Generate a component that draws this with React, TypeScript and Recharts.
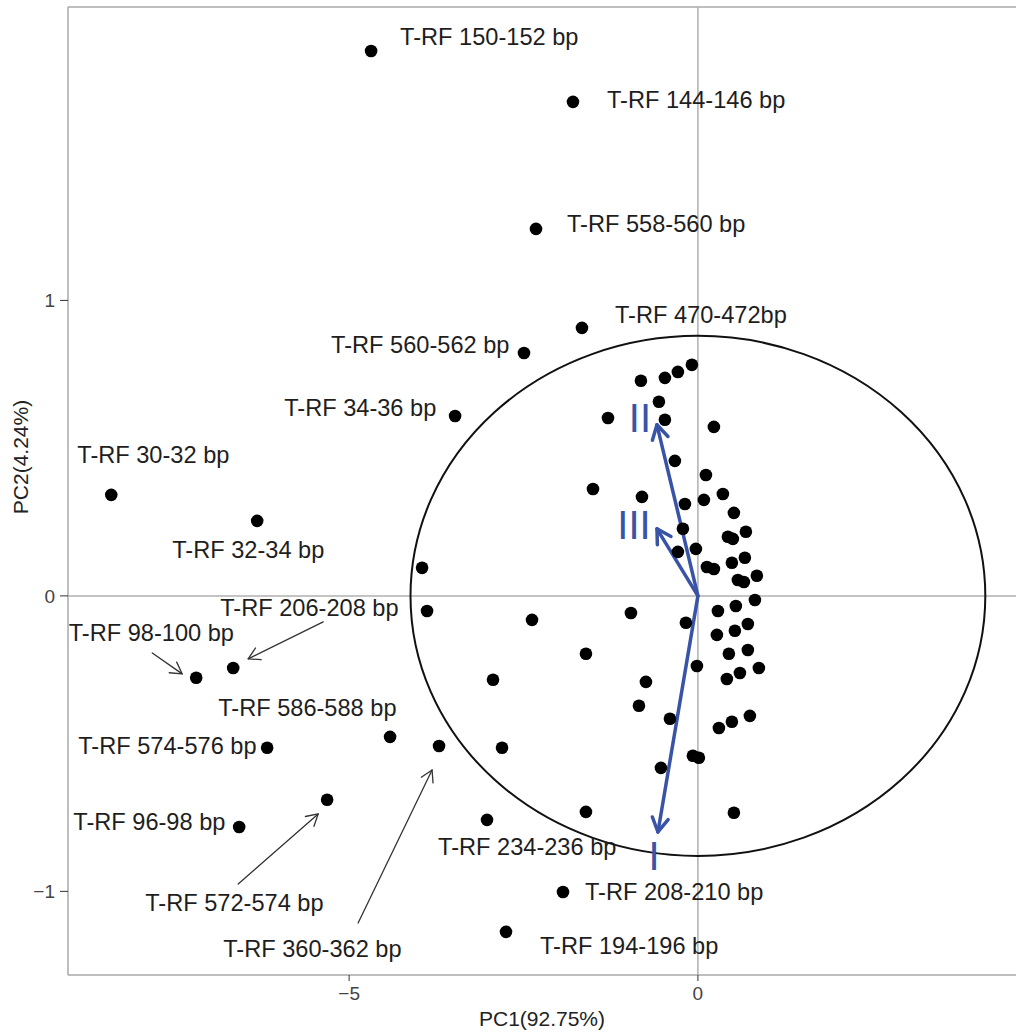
import React from 'react';
import { ComposedChart, Scatter, XAxis, YAxis, ReferenceLine } from 'recharts';

const FONT = '"Liberation Sans", Arial, Helvetica, sans-serif';

// named T-RF points (PC1, PC2)
const labelNames = [
  'T-RF 150-152 bp', 'T-RF 144-146 bp', 'T-RF 558-560 bp', 'T-RF 470-472bp',
  'T-RF 560-562 bp', 'T-RF 34-36 bp', 'T-RF 30-32 bp', 'T-RF 32-34 bp',
  'T-RF 206-208 bp', 'T-RF 98-100 bp', 'T-RF 586-588 bp', 'T-RF 574-576 bp',
  'T-RF 572-574 bp', 'T-RF 96-98 bp', 'T-RF 360-362 bp', 'T-RF 234-236 bp',
  'T-RF 208-210 bp', 'T-RF 194-196 bp',
];
const labelledPC1 = [
  -4.685, -1.791, -2.321, -1.662, -2.493, -3.481, -8.41, -6.318, -6.662,
  -7.192, -4.413, -6.175, -5.315, -6.576, -3.711, -3.023, -1.934, -2.751,
];
const labelledPC2 = [
  1.844, 1.672, 1.242, 0.907, 0.822, 0.609, 0.342, 0.254, -0.244,
  -0.277, -0.477, -0.514, -0.69, -0.782, -0.508, -0.758, -1.002, -1.137,
];
// where each name starts (left edge, middle of the text)
const labelTextPC1 = [
  -4.269, -1.304, -1.877, -1.189, -5.258, -5.931, -8.897, -7.536, -6.848,
  -9.02, -6.877, -8.883, -7.923, -8.954, -6.805, -3.725, -1.619, -2.264,
];
const labelTextPC2 = [
  1.892, 1.678, 1.259, 0.951, 0.849, 0.636, 0.477, 0.156, -0.041,
  -0.125, -0.379, -0.508, -1.039, -0.765, -1.195, -0.849, -1.002, -1.184,
];

// unnamed points
const otherPC1 = [
  -0.817, -0.473, -0.287, -0.086, -0.559, -1.289, -0.473, 0.229, -0.33, 0.115,
  -1.504, -0.802, -0.186, 0.086, 0.358, 0.516, -0.215, 0.688, 0.43, 0.501,
  -0.287, -0.029, 0.673, 0.487, 0.129, 0.229, 0.845, 0.573, 0.659, 0.817,
  0.544, 0.287, -0.96, -0.172, 0.716, 0.53, 0.272, -1.605, 0.716, 0.444,
  -0.014, 0.874, 0.602, 0.415, -0.745, -0.845, -0.401, 0.745, 0.487, 0.301,
  -0.072, 0.014, -0.53, -1.605, 0.516, -3.954, -3.883, -2.378, -2.937, -2.808,
];
const otherPC2 = [
  0.728, 0.738, 0.758, 0.782, 0.657, 0.602, 0.596, 0.572, 0.457, 0.409,
  0.362, 0.335, 0.311, 0.325, 0.345, 0.281, 0.227, 0.217, 0.2, 0.193,
  0.149, 0.159, 0.129, 0.112, 0.098, 0.091, 0.068, 0.054, 0.047, -0.014,
  -0.034, -0.051, -0.058, -0.091, -0.095, -0.118, -0.132, -0.196, -0.183, -0.196,
  -0.237, -0.244, -0.261, -0.281, -0.291, -0.372, -0.416, -0.406, -0.426, -0.447,
  -0.541, -0.548, -0.582, -0.731, -0.734, 0.095, -0.051, -0.081, -0.284, -0.514,
];

// leader arrows: label -> point
const leaderFromPC1 = [-7.822, -5.372, -6.59, -4.871];
const leaderFromPC2 = [-0.193, -0.088, -0.975, -1.107];
const leaderToPC1 = [-7.393, -6.447, -5.444, -3.811];
const leaderToPC2 = [-0.264, -0.213, -0.738, -0.589];

// group vectors
const vectorNames = ['I', 'II', 'III'];
const vectorPC1 = [-0.573, -0.587, -0.587];
const vectorPC2 = [-0.799, 0.579, 0.227];
const vectorLabelPC1 = [-0.63, -0.831, -0.917];
const vectorLabelPC2 = [-0.88, 0.602, 0.24];

// confidence ellipse half-axes
const ellipseRX = 4.12;
const ellipseRY = 0.88;

const xDomain = [-9.03, 4.56];
const yDomain = [-1.283, 1.993];
const xTicks = [-5, 0];
const yTicks = [-1, 0, 1];

const BLUE = '#3953a6';
const GRID = '#b0b0b0';

const points = [
  ...labelledPC1.map((x, i) => ({ x, y: labelledPC2[i] })),
  ...otherPC1.map((x, i) => ({ x, y: otherPC2[i] })),
];
const labels = labelNames.map((name, i) => ({ x: labelTextPC1[i], y: labelTextPC2[i], name }));
const vectorLabels = vectorNames.map((name, i) => ({ x: vectorLabelPC1[i], y: vectorLabelPC2[i], name }));

const fmt = (v: number) => (v < 0 ? `\u2212${Math.abs(v)}` : `${v}`);

const arrowShape = (color: string, width: number, head: number) => (props: any) => {
  const { x1, y1, x2, y2 } = props;
  if ([x1, y1, x2, y2].some((v) => typeof v !== 'number' || isNaN(v))) return <g />;
  const a = Math.atan2(y2 - y1, x2 - x1);
  const s = Math.PI / 6;
  const h1 = `${x2 - head * Math.cos(a - s)},${y2 - head * Math.sin(a - s)}`;
  const h2 = `${x2 - head * Math.cos(a + s)},${y2 - head * Math.sin(a + s)}`;
  return (
    <g>
      <line x1={x1} y1={y1} x2={x2} y2={y2} stroke={color} strokeWidth={width} strokeLinecap="round" />
      <polyline points={`${h1} ${x2},${y2} ${h2}`} fill="none" stroke={color} strokeWidth={width} strokeLinecap="round" strokeLinejoin="round" />
    </g>
  );
};

const ellipseShape = (props: any) => {
  const { x1, y1, x2, y2 } = props;
  if ([x1, y1, x2, y2].some((v) => typeof v !== 'number' || isNaN(v))) return <g />;
  return (
    <ellipse
      cx={(x1 + x2) / 2}
      cy={(y1 + y2) / 2}
      rx={Math.abs(x2 - x1) / 2}
      ry={Math.abs(y2 - y1) / 2}
      fill="none"
      stroke="#111"
      strokeWidth={2}
    />
  );
};

const XTitle = (props: any) => {
  const vb = props.viewBox || { x: 68, y: 975, width: 948, height: 57 };
  return (
    <text x={vb.x + vb.width / 2} y={vb.y + 43} textAnchor="middle" dominantBaseline="central" fontSize={21} fill="#222" fontFamily={FONT}>
      PC1(92.75%)
    </text>
  );
};

const YTitle = (props: any) => {
  const vb = props.viewBox || { x: 0, y: 7, width: 68, height: 968 };
  const cx = vb.x + 20;
  const cy = vb.y + vb.height / 2 - 34;
  return (
    <text x={cx} y={cy} transform={`rotate(-90 ${cx} ${cy})`} textAnchor="middle" dominantBaseline="central" fontSize={21} fill="#222" fontFamily={FONT}>
      PC2(4.24%)
    </text>
  );
};

export default function App() {
  return (
    <div style={{ position: 'absolute', left: 0, top: 0, background: '#fff' }}>
      <ComposedChart width={1016} height={1032} margin={{ top: 7, right: 0, bottom: 0, left: 0 }}>
        <XAxis
          type="number"
          dataKey="x"
          domain={xDomain}
          allowDataOverflow
          ticks={xTicks}
          tickFormatter={fmt}
          height={57}
          tickSize={6}
          tickMargin={6}
          axisLine={{ stroke: '#a8a8a8', strokeWidth: 1.5 }}
          tickLine={{ stroke: '#333' }}
          tick={{ fontSize: 19, fill: '#444', fontFamily: FONT }}
          label={<XTitle />}
        />
        <YAxis
          type="number"
          dataKey="y"
          domain={yDomain}
          allowDataOverflow
          ticks={yTicks}
          tickFormatter={fmt}
          width={68}
          tickSize={8}
          tickMargin={5}
          axisLine={{ stroke: '#a8a8a8', strokeWidth: 1.5 }}
          tickLine={{ stroke: '#333' }}
          tick={{ fontSize: 19, fill: '#444', fontFamily: FONT }}
          label={<YTitle />}
        />
        <ReferenceLine y={yDomain[1]} stroke="#a8a8a8" strokeWidth={1.5} />
        <ReferenceLine x={0} stroke={GRID} strokeWidth={1.5} />
        <ReferenceLine y={0} stroke={GRID} strokeWidth={1.5} />
        <ReferenceLine
          segment={[{ x: -ellipseRX, y: -ellipseRY }, { x: ellipseRX, y: ellipseRY }]}
          shape={ellipseShape}
        />
        {leaderFromPC1.map((x, i) => (
          <ReferenceLine
            key={`lead-${i}`}
            segment={[{ x, y: leaderFromPC2[i] }, { x: leaderToPC1[i], y: leaderToPC2[i] }]}
            shape={arrowShape('#333', 1.3, 13)}
          />
        ))}
        <Scatter
          data={points}
          fill="#000"
          isAnimationActive={false}
          shape={(p: any) => <circle cx={p.cx} cy={p.cy} r={6.3} fill="#000" />}
        />
        <Scatter
          data={labels}
          isAnimationActive={false}
          shape={(p: any) => (
            <text x={p.cx} y={p.cy} dominantBaseline="central" fontSize={23.6} fill="#1e1e1e" fontFamily={FONT}>
              {p.payload.name}
            </text>
          )}
        />
        {vectorPC1.map((x, i) => (
          <ReferenceLine
            key={`vec-${i}`}
            isFront
            segment={[{ x: 0, y: 0 }, { x, y: vectorPC2[i] }]}
            shape={arrowShape(BLUE, 3.5, 16)}
          />
        ))}
        <Scatter
          data={vectorLabels}
          isAnimationActive={false}
          shape={(p: any) => (
            <text x={p.cx} y={p.cy} textAnchor="middle" dominantBaseline="central" fontSize={40} fill={BLUE} fontFamily={FONT}>
              {p.payload.name}
            </text>
          )}
        />
      </ComposedChart>
    </div>
  );
}
